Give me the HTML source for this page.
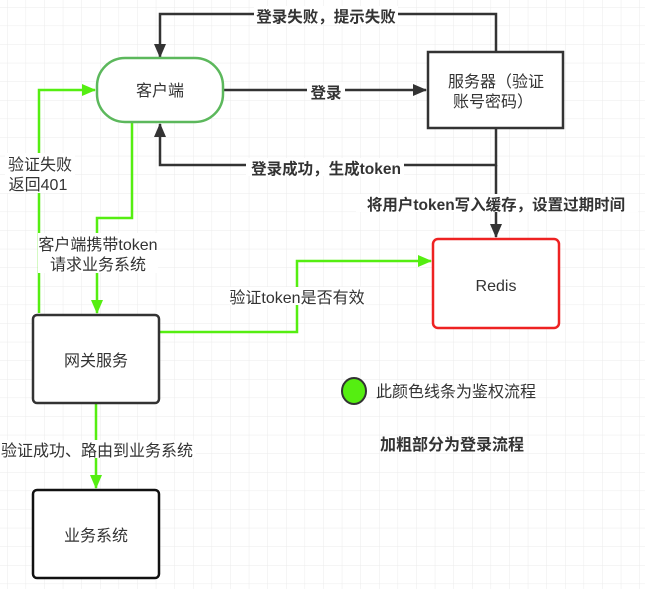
<!DOCTYPE html>
<html><head><meta charset="utf-8"><style>
html,body{margin:0;padding:0;background:#fff}
svg{display:block;font-family:"Liberation Sans","Noto Sans CJK SC",sans-serif}
</style></head><body>
<svg width="645" height="589" viewBox="0 0 645 589" xmlns="http://www.w3.org/2000/svg">
<defs>
<pattern id="g" x="7" y="7" width="18.6" height="18.6" patternUnits="userSpaceOnUse">
<path d="M0 0H18.6M0 0V18.6" stroke="#ebebeb" stroke-width="1" fill="none"/>
</pattern>
<marker id="ak" markerWidth="14" markerHeight="12" refX="13" refY="6" orient="auto" markerUnits="userSpaceOnUse"><path d="M0 0L14 6L0 12z" fill="#333"/></marker>
<marker id="ag" markerWidth="14" markerHeight="12" refX="13" refY="6" orient="auto" markerUnits="userSpaceOnUse"><path d="M0 0L14 6L0 12z" fill="#55ee11"/></marker>
</defs>
<rect width="645" height="589" fill="url(#g)"/>
<g fill="none" stroke="#333" stroke-width="2.5">
<path d="M496 52V14H160V57" marker-end="url(#ak)"/>
<path d="M223 90H426" marker-end="url(#ak)"/>
<path d="M496 128V165H160V124" marker-end="url(#ak)"/>
<path d="M496 165V237" marker-end="url(#ak)"/>
</g>
<g fill="none" stroke="#55ee11" stroke-width="2.5">
<path d="M39 313V90H95" marker-end="url(#ag)"/>
<path d="M132 122V218H97V313" marker-end="url(#ag)"/>
<path d="M159 332H297V261H431" marker-end="url(#ag)"/>
<path d="M96 403V488" marker-end="url(#ag)"/>
</g>
<rect x="97" y="58" width="126" height="64" rx="28" fill="#fff" stroke="#5cb85c" stroke-width="2.5"/>
<rect x="428" y="52" width="135" height="76" fill="#fff" stroke="#333" stroke-width="2.5"/>
<rect x="433" y="239" width="126" height="89" rx="5" fill="#fff" stroke="#e22" stroke-width="2.5"/>
<rect x="33" y="315" width="126" height="88" rx="4" fill="#fff" stroke="#333" stroke-width="2.5"/>
<rect x="33" y="490" width="126" height="88" rx="4" fill="#fff" stroke="#111" stroke-width="2.5"/>
<ellipse cx="354" cy="391" rx="12" ry="13" fill="#55ee11" stroke="#333" stroke-width="2"/>
<g font-size="16" fill="#333" text-anchor="middle">
<text x="160" y="96">客户端</text>
<text x="496" y="87">服务器（验证</text>
<text x="493" y="107">账号密码）</text>
<text x="496" y="291">Redis</text>
<text x="96" y="366">网关服务</text>
<text x="96" y="541">业务系统</text>
</g>
<g font-size="15.5" fill="#333" text-anchor="middle" font-weight="bold">
<rect x="254" y="6" width="144" height="18" fill="#fff"/>
<text x="326" y="22">登录失败，提示失败</text>
<rect x="307" y="82" width="38" height="18" fill="#fff"/>
<text x="326" y="98">登录</text>
<rect x="246" y="158" width="158" height="18" fill="#fff"/>
<text x="326" y="174">登录成功，生成token</text>
<rect x="356" y="194" width="282" height="18" fill="#fff"/>
<text x="496" y="210">将用户token写入缓存，设置过期时间</text>
<text x="452" y="450" font-size="16">加粗部分为登录流程</text>
</g>
<g font-size="16" fill="#333" text-anchor="middle">
<rect x="5" y="153" width="70" height="40" fill="#fff"/>
<text x="40" y="170">验证失败</text>
<text x="38" y="190">返回401</text>
<rect x="38" y="233" width="120" height="40" fill="#fff"/>
<text x="98" y="250">客户端携带token</text>
<text x="98" y="270">请求业务系统</text>
<rect x="230" y="287" width="136" height="18" fill="#fff"/>
<text x="297" y="303">验证token是否有效</text>
<rect x="0" y="440" width="196" height="18" fill="#fff"/>
<text x="97" y="456">验证成功、路由到业务系统</text>
<text x="376" y="397" text-anchor="start">此颜色线条为鉴权流程</text>
</g>
</svg>
</body></html>
